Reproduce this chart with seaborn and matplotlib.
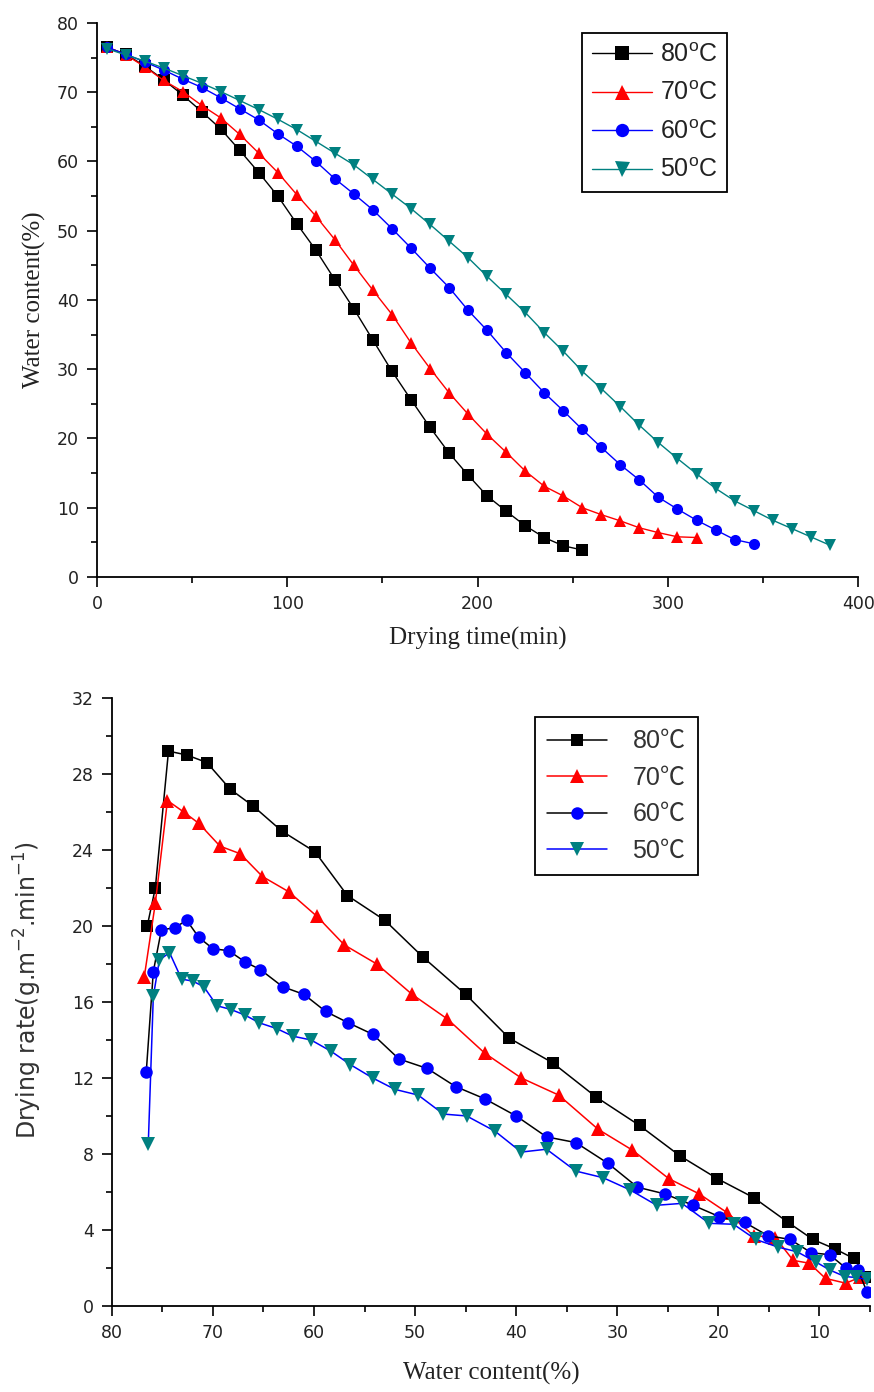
import matplotlib
matplotlib.use("Agg")
import matplotlib.pyplot as plt
import pandas as pd
import seaborn as sns
from matplotlib.ticker import MultipleLocator

# ---- top panel: water content vs drying time (sampled every 10 min) ----
TIME = [5, 15, 25, 35, 45, 55, 65, 75, 85, 95, 105, 115, 125, 135, 145, 155,
        165, 175, 185, 195, 205, 215, 225, 235, 245, 255, 265, 275, 285, 295,
        305, 315, 325, 335, 345, 355, 365, 375, 385]

wc_80 = [76.5, 75.5, 73.8, 71.8, 69.6, 67.2, 64.7, 61.6, 58.4, 55.0, 51.0, 47.2,
         42.9, 38.7, 34.2, 29.7, 25.6, 21.6, 17.9, 14.7, 11.7, 9.5, 7.4, 5.7,
         4.5, 3.9]
wc_70 = [76.6, 75.4, 73.7, 71.7, 70.1, 68.1, 66.3, 63.9, 61.2, 58.4, 55.2, 52.1,
         48.7, 45.0, 41.4, 37.9, 33.8, 30.1, 26.6, 23.5, 20.6, 18.0, 15.3, 13.1,
         11.7, 10.0, 9.0, 8.1, 7.1, 6.4, 5.8, 5.7]
wc_60 = [76.5, 75.5, 74.4, 73.2, 71.9, 70.7, 69.2, 67.6, 66.0, 64.0, 62.2, 60.0,
         57.5, 55.3, 53.0, 50.3, 47.5, 44.6, 41.8, 38.5, 35.6, 32.4, 29.5, 26.6,
         24.0, 21.3, 18.7, 16.2, 14.0, 11.5, 9.8, 8.2, 6.8, 5.4, 4.8]
wc_50 = [76.3, 75.4, 74.5, 73.5, 72.4, 71.3, 70.1, 68.8, 67.5, 66.1, 64.6, 62.9,
         61.2, 59.5, 57.4, 55.3, 53.2, 50.9, 48.5, 46.1, 43.4, 40.8, 38.2, 35.3,
         32.6, 29.7, 27.2, 24.6, 21.9, 19.4, 17.1, 14.9, 12.8, 11.0, 9.6, 8.2,
         7.0, 5.8, 4.6]

# ---- bottom panel: drying rate vs water content ----
rx_80 = [76.5, 75.7, 74.4, 72.6, 70.6, 68.3, 66.0, 63.2, 59.9, 56.7, 53.0, 49.2,
         45.0, 40.7, 36.4, 32.1, 27.8, 23.8, 20.1, 16.5, 13.1, 10.65, 8.45, 6.6, 5.3]
ry_80 = [20.0, 22.0, 29.2, 29.0, 28.6, 27.2, 26.3, 25.0, 23.9, 21.6, 20.3, 18.35,
         16.4, 14.1, 12.8, 11.0, 9.5, 7.9, 6.7, 5.7, 4.4, 3.5, 3.0, 2.5, 1.5]

rx_70 = [76.8, 75.7, 74.5, 72.9, 71.4, 69.3, 67.3, 65.1, 62.5, 59.7, 57.0, 53.8,
         50.3, 46.8, 43.1, 39.5, 35.8, 31.9, 28.5, 24.9, 21.9, 19.1, 16.5, 14.35,
         12.6, 11.0, 9.4, 7.4, 6.0]
ry_70 = [17.3, 21.2, 26.6, 26.0, 25.4, 24.2, 23.8, 22.6, 21.8, 20.5, 19.0, 18.0,
         16.4, 15.1, 13.3, 12.0, 11.1, 9.3, 8.2, 6.7, 5.9, 4.9, 3.7, 3.6,
         2.4, 2.25, 1.45, 1.2, 1.5]

rx_60 = [76.6, 75.9, 75.1, 73.8, 72.6, 71.4, 70.0, 68.45, 66.8, 65.3, 63.1, 61.0,
         58.85, 56.6, 54.2, 51.6, 48.8, 46.0, 43.1, 40.0, 37.0, 34.1, 30.9, 28.0,
         25.3, 22.5, 19.9, 17.4, 15.1, 12.9, 10.8, 9.0, 7.4, 6.2, 5.3]
ry_60 = [12.3, 17.6, 19.8, 19.9, 20.3, 19.4, 18.8, 18.7, 18.1, 17.7, 16.8, 16.4,
         15.5, 14.9, 14.3, 13.0, 12.5, 11.55, 10.9, 10.0, 8.9, 8.6, 7.5, 6.25,
         5.9, 5.3, 4.7, 4.4, 3.7, 3.5, 2.8, 2.7, 2.0, 1.9, 0.75]

rx_50 = [76.4, 75.9, 75.3, 74.3, 73.1, 72.0, 70.9, 69.6, 68.2, 66.8, 65.4, 63.7,
         62.1, 60.3, 58.3, 56.4, 54.2, 52.0, 49.7, 47.2, 44.9, 42.1, 39.5, 37.0,
         34.1, 31.4, 28.7, 26.1, 23.6, 20.9, 18.5, 16.3, 14.1, 12.2, 10.3, 9.0,
         7.5, 6.4, 5.3]
ry_50 = [8.5, 16.3, 18.2, 18.6, 17.2, 17.1, 16.8, 15.8, 15.6, 15.3, 14.9, 14.6,
         14.2, 14.0, 13.4, 12.7, 12.0, 11.4, 11.1, 10.1, 10.0, 9.2, 8.1, 8.25,
         7.1, 6.75, 6.1, 5.3, 5.4, 4.35, 4.3, 3.5, 3.1, 2.85, 2.3, 1.9,
         1.55, 1.5, 1.4]

TOP_LABELS = [r"80$^\mathregular{o}$C", r"70$^\mathregular{o}$C",
              r"60$^\mathregular{o}$C", r"50$^\mathregular{o}$C"]
BOTTOM_LABELS = ["80℃", "70℃", "60℃", "50℃"]

TEAL = "#008080"

sns.set_theme(style="ticks")
plt.rcParams["font.family"] = ["DejaVu Sans"]
plt.rcParams["axes.linewidth"] = 1.3
plt.rcParams["mathtext.default"] = "regular"


def style_axis(ax):
    for side in ("top", "right"):
        ax.spines[side].set_visible(False)
    for side in ("left", "bottom"):
        ax.spines[side].set_color("black")
    ax.tick_params(which="major", direction="out", length=7, width=1.2,
                   color="black", labelsize=12.5, labelcolor="#222222", pad=6)
    ax.tick_params(which="minor", direction="out", length=4, width=1.2,
                   color="black")
    ax.grid(False)


fig = plt.figure(figsize=(8.74, 13.92), dpi=100)

# ---------------- top panel ----------------
ax1 = fig.add_axes([0.111, 0.5855, 0.871, 0.398])
top_series = [(wc_80, "black", "s", 8),
              (wc_70, "red", "^", 9),
              (wc_60, "blue", "o", 8),
              (wc_50, TEAL, "v", 9)]
for vals, color, marker, ms in top_series:
    df = pd.DataFrame({"time": TIME[:len(vals)], "wc": vals})
    sns.lineplot(data=df, x="time", y="wc", ax=ax1, color=color, marker=marker,
                 markersize=ms, markeredgewidth=0, linewidth=1.0,
                 estimator=None, sort=False, legend=False)

ax1.set_xlim(0, 400)
ax1.set_ylim(0, 80)
ax1.xaxis.set_major_locator(MultipleLocator(100))
ax1.xaxis.set_minor_locator(MultipleLocator(50))
ax1.yaxis.set_major_locator(MultipleLocator(10))
ax1.yaxis.set_minor_locator(MultipleLocator(5))
style_axis(ax1)
ax1.set_xlabel("Drying time(min)", family="Liberation Serif", fontsize=18,
               color="#222222", labelpad=10)
ax1.set_ylabel("Water content(%)", family="Liberation Serif", fontsize=18,
               color="#222222", labelpad=8)
leg1 = ax1.legend(ax1.lines, TOP_LABELS, loc="upper right",
                  bbox_to_anchor=(0.828, 0.982), borderaxespad=0,
                  prop={"family": "Liberation Sans", "size": 18},
                  handlelength=2.4, handletextpad=0.3, labelspacing=0.58,
                  borderpad=0.4, markerscale=1.2, frameon=True, fancybox=False,
                  edgecolor="black", framealpha=1)
leg1.get_frame().set_linewidth(1.3)
for t in leg1.get_texts():
    t.set_color("#222222")

# ---------------- bottom panel ----------------
ax2 = fig.add_axes([0.128, 0.0618, 0.8674, 0.4368])
bottom_series = [(rx_80, ry_80, "black", "black", "s", 8),
                 (rx_70, ry_70, "red", "red", "^", 10),
                 (rx_60, ry_60, "black", "blue", "o", 9),
                 (rx_50, ry_50, "blue", TEAL, "v", 10)]
for xs, ys, lcolor, mcolor, marker, ms in bottom_series:
    df = pd.DataFrame({"water": xs, "rate": ys})
    sns.lineplot(data=df, x="water", y="rate", ax=ax2, color=lcolor,
                 marker=marker, markersize=ms, markerfacecolor=mcolor,
                 markeredgecolor=mcolor, markeredgewidth=0, linewidth=1.1,
                 estimator=None, sort=False, legend=False)

ax2.set_xlim(80, 5)
ax2.set_ylim(0, 32)
ax2.xaxis.set_major_locator(MultipleLocator(10))
ax2.xaxis.set_minor_locator(MultipleLocator(5))
ax2.yaxis.set_major_locator(MultipleLocator(4))
ax2.yaxis.set_minor_locator(MultipleLocator(2))
style_axis(ax2)
ax2.set_xlabel("Water content(%)", family="Liberation Serif", fontsize=18,
               color="#222222", labelpad=14)
ax2.set_ylabel(r"Drying rate(g.m$^{-2}$.min$^{-1}$)", family="DejaVu Sans",
               fontsize=17, color="#333333")
ax2.yaxis.set_label_coords(-0.09, 0.52)
leg2 = ax2.legend(ax2.lines, BOTTOM_LABELS, loc="upper right",
                  bbox_to_anchor=(0.773, 0.969), borderaxespad=0,
                  prop={"family": ["Liberation Sans", "Noto Sans CJK SC"], "size": 18},
                  handlelength=2.4, handletextpad=1.0, labelspacing=0.5,
                  borderpad=0.5, frameon=True, fancybox=False,
                  edgecolor="black", framealpha=1)
leg2.get_frame().set_linewidth(1.3)
for t in leg2.get_texts():
    t.set_color("#333333")

fig.savefig("out.png", dpi=100)
